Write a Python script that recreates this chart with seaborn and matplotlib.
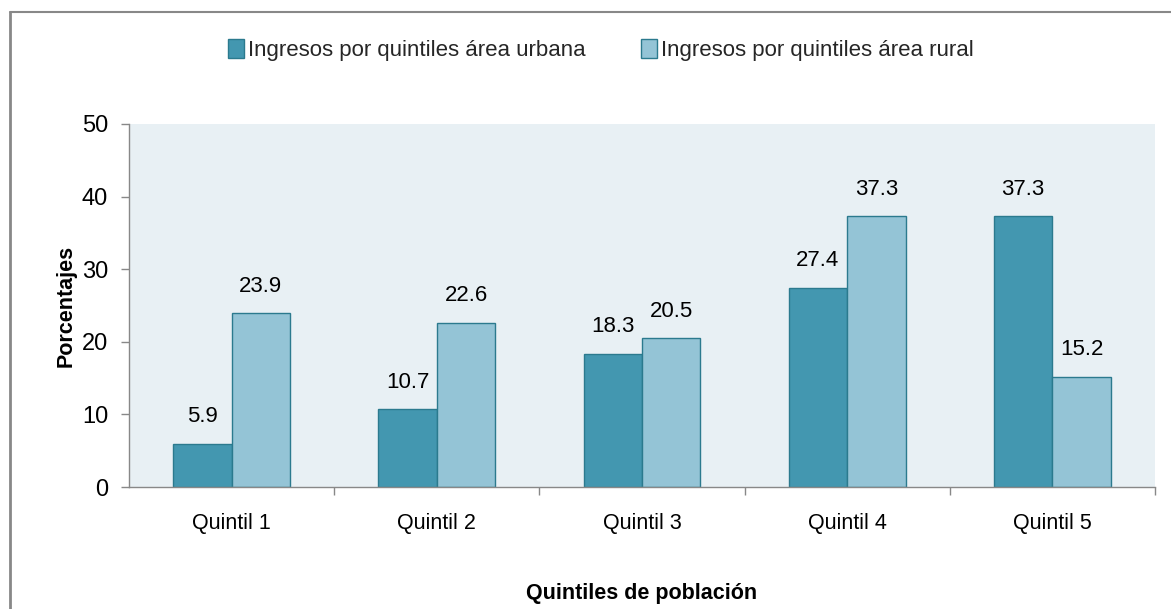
import pandas as pd
import matplotlib.pyplot as plt
import matplotlib.lines as mlines
import seaborn as sns

sns.set_theme(style="white")
plt.rcParams['font.family'] = ['Liberation Sans', 'DejaVu Sans']

# Datos
quintiles = ["Quintil 1", "Quintil 2", "Quintil 3", "Quintil 4", "Quintil 5"]
urbana = [5.9, 10.7, 18.3, 27.4, 37.3]
rural = [23.9, 22.6, 20.5, 37.3, 15.2]
series = ["Ingresos por quintiles área urbana", "Ingresos por quintiles área rural"]

df = pd.DataFrame({
    "quintil": quintiles * 2,
    "valor": urbana + rural,
    "serie": [series[0]] * 5 + [series[1]] * 5,
})

colores = {series[0]: "#4397B0", series[1]: "#94C4D6"}

fig = plt.figure(figsize=(11.71, 6.09), dpi=100)
ax = fig.add_axes([129/1171, 1 - 487/609, (1155-129)/1171, (487-124)/609])
ax.set_facecolor("#E8F0F4")

sns.barplot(data=df, x="quintil", y="valor", hue="serie", palette=colores, saturation=1,
            width=0.57, edgecolor="#2B7A8E", linewidth=1.0, ax=ax, legend=True)

for cont in ax.containers:
    ax.bar_label(cont, fmt="%.1f", padding=12, fontsize=16, color="#000000")

ax.set_ylim(0, 50)
ax.set_xlim(-0.5, 4.5)
ax.set_yticks(range(0, 51, 10))
ax.tick_params(axis='y', labelsize=17, length=6, width=1, color="#888888", direction='out', left=True, pad=9,
               labelcolor="#000000")
ax.tick_params(axis='x', labelsize=15.5, length=0, pad=19, labelcolor="#000000")
ax.set_xticks([i + 0.5 for i in range(5)], minor=True)
ax.tick_params(axis='x', which='minor', length=6, width=1, color="#888888", bottom=True)

for s in ["top", "right"]:
    ax.spines[s].set_visible(False)
for s in ["left", "bottom"]:
    ax.spines[s].set_color("#888888")
    ax.spines[s].set_linewidth(1)

ax.set_xlabel("Quintiles de población", fontsize=15.5, fontweight="bold", labelpad=35, color="#000000")
ax.set_ylabel("Porcentajes", fontsize=15.5, fontweight="bold", labelpad=4, color="#000000")

leg = ax.legend(loc="center", bbox_to_anchor=((601-129)/1026, 1 + (124-50)/363), ncol=2, frameon=False,
                fontsize=16, handlelength=0.7, handleheight=0.9, handletextpad=0.2,
                columnspacing=2.5)
for h in leg.legend_handles:
    h.set_edgecolor("#2B7A8E")

# borde gris del recuadro
fig.add_artist(mlines.Line2D([10/1171, 1], [1 - 12/609, 1 - 12/609], color="#888888", lw=1.5))
fig.add_artist(mlines.Line2D([10/1171, 10/1171], [0, 1 - 12/609], color="#888888", lw=2))

fig.savefig("out.png", dpi=100)
